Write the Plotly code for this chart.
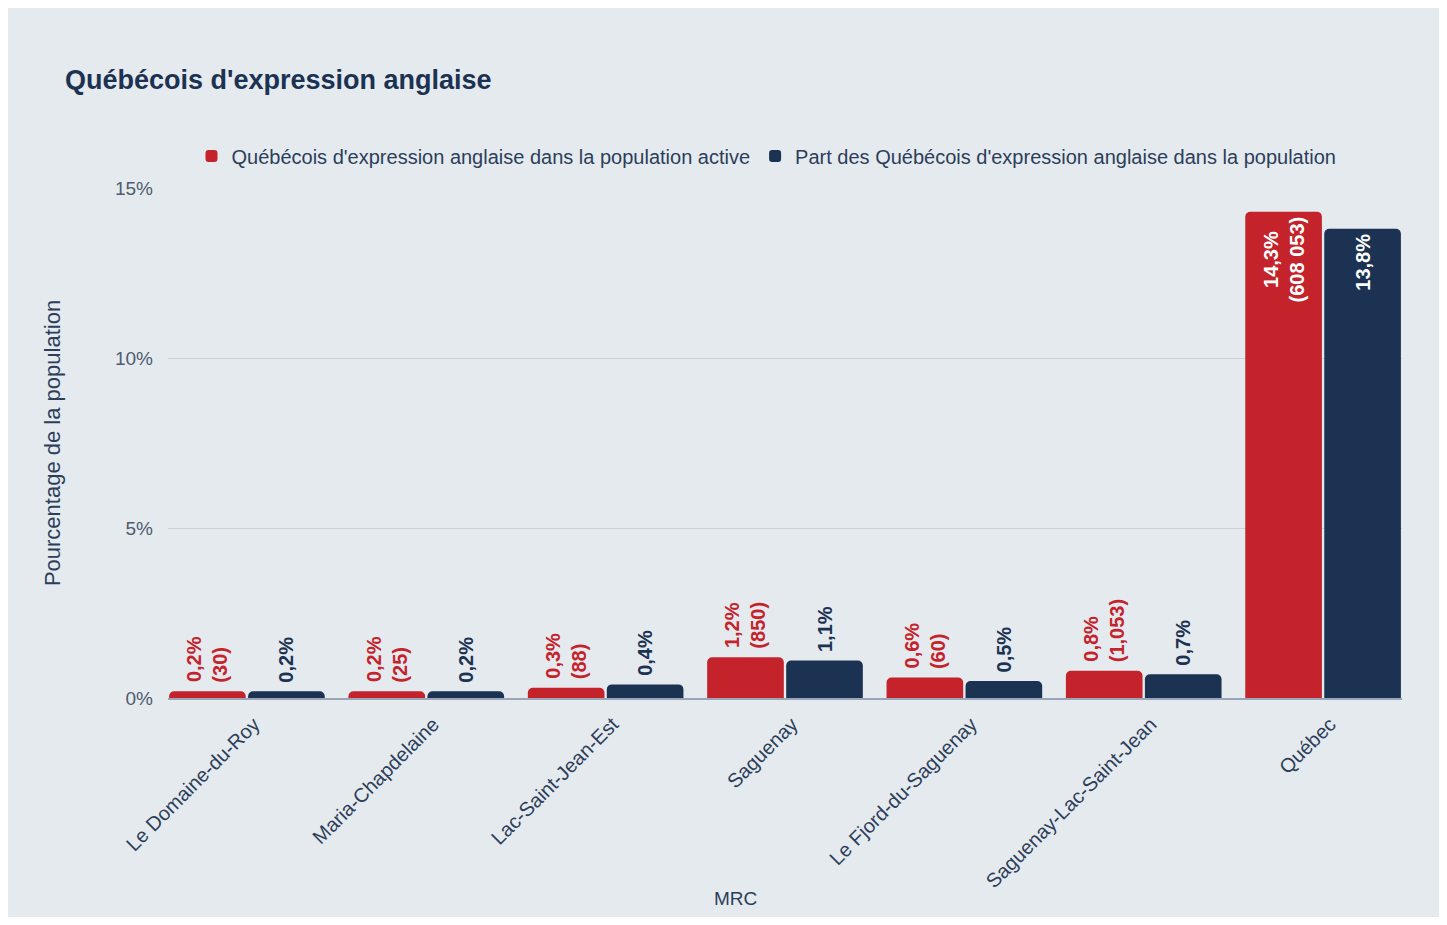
import plotly.graph_objects as go

categories = ["Le Domaine-du-Roy", "Maria-Chapdelaine", "Lac-Saint-Jean-Est", "Saguenay",
              "Le Fjord-du-Saguenay", "Saguenay-Lac-Saint-Jean", "Québec"]
active_pct = [0.2, 0.2, 0.3, 1.2, 0.6, 0.8, 14.3]
active_counts = ["30", "25", "88", "850", "60", "1,053", "608 053"]
pop_pct = [0.2, 0.2, 0.4, 1.1, 0.5, 0.7, 13.8]

series_names = ["Québécois d'expression anglaise dans la population active",
                "Part des Québécois d'expression anglaise dans la population"]

RED = "#c4232b"
NAVY = "#1b3252"
BG = "#e5eaef"
FONT = "Liberation Sans, Arial, sans-serif"
NB = "\u00a0"

# approximate bold glyph widths (em) to bottom-align rotated label lines
CW = {",": 0.278, "%": 0.889, "(": 0.333, ")": 0.333, " ": 0.278}


def width(s):
    return sum(CW.get(ch, 0.556) for ch in s)


def fr(v):
    return f"{v:.1f}".replace(".", ",") + "%"


def align_lines(lines, outside):
    if not outside:
        return "<br>".join(lines)
    wmax = max(width(l) for l in lines)
    out = []
    for l in lines:
        pad = int(round((wmax - width(l)) / 0.278))
        out.append(NB + l + NB * pad)
    return "<br>".join(out)


def positions(vals):
    return ["inside" if v > 5 else "outside" for v in vals]


active_pos = positions(active_pct)
pop_pos = positions(pop_pct)
active_text = [align_lines([fr(v), f"({c})"], p == "outside")
               for v, c, p in zip(active_pct, active_counts, active_pos)]
pop_text = [align_lines([fr(v)], p == "outside") for v, p in zip(pop_pct, pop_pos)]

W, H = 1431, 909
ml, mr, mt, mb = 160, 37, 180, 219

fig = go.Figure()
fig.add_trace(go.Bar(
    x=categories, y=active_pct, name=series_names[0], marker_color=RED,
    marker_line_width=0,
    text=active_text, textposition=active_pos, textangle=-90,
    insidetextanchor="end",
    outsidetextfont=dict(color=RED, size=20, family=FONT, weight="bold"),
    insidetextfont=dict(color="white", size=20, family=FONT, weight="bold"),
    cliponaxis=False,
))
fig.add_trace(go.Bar(
    x=categories, y=pop_pct, name=series_names[1], marker_color=NAVY,
    marker_line_width=0,
    text=pop_text, textposition=pop_pos, textangle=-90,
    insidetextanchor="end",
    outsidetextfont=dict(color=NAVY, size=20, family=FONT, weight="bold"),
    insidetextfont=dict(color="white", size=20, family=FONT, weight="bold"),
    cliponaxis=False,
))

fig.update_layout(
    width=W, height=H,
    margin=dict(l=ml, r=mr, t=mt, b=mb),
    paper_bgcolor=BG, plot_bgcolor=BG,
    font=dict(family=FONT, color="#2c3e5a"),
    barmode="group", bargap=0.119, bargroupgap=0.03, barcornerradius=5,
    title=dict(text="<b>Québécois d'expression anglaise</b>", x=57 / W, xanchor="left",
               xref="container", yref="container", y=1 - 72 / H, yanchor="middle",
               font=dict(size=27, color=NAVY, family=FONT)),
    legend=dict(orientation="h", x=0.485, xanchor="center", y=1 + 32 / 510, yanchor="middle",
                font=dict(size=20, color="#2c3e5a", family=FONT), bgcolor="rgba(0,0,0,0)",
                itemwidth=30, traceorder="normal"),
    showlegend=True,
)
fig.update_xaxes(
    range=[-0.44, 6.44],
    tickangle=-45, tickfont=dict(size=20, color="#2c3e5a", family=FONT),
    ticklabelshift=7, ticklabelstandoff=5,
    showline=True, linecolor="#9aa6b8", linewidth=1.5, ticks="", showgrid=False,
)
fig.update_yaxes(
    range=[0, 15], tickvals=[0, 5, 10, 15], ticktext=["0%", "5%", "10%", "15%"],
    tickfont=dict(size=19, color="#4f5b6e", family=FONT), ticklabelstandoff=14,
    gridcolor="#c9d1db", gridwidth=1, zeroline=False,
    title=dict(text="Pourcentage de la population", font=dict(size=22, color="#2c3e5a", family=FONT),
               standoff=48),
)
fig.add_annotation(text="MRC", xref="paper", yref="paper", x=(727 - ml) / (W - ml - mr),
                   y=-(898 - 8 - (H - mb)) / 510, yanchor="middle", showarrow=False,
                   font=dict(size=19, color="#2c3e5a", family=FONT))

fig.write_html("out.html")
